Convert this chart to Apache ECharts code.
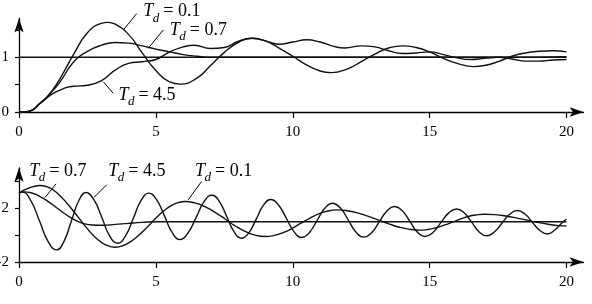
<!DOCTYPE html>
<html><head><meta charset="utf-8">
<style>html,body{margin:0;padding:0;background:#fff}#c{width:592px;height:304px}</style>
<script src="https://cdn.jsdelivr.net/npm/echarts@6/dist/echarts.min.js"></script>
</head><body><div id="c"></div>
<script>
// ---------- data ----------
const xTicks = [0, 5, 10, 15, 20];
const topYTicks = [0, 0.5, 1, 1.5];
const topYLabels = [0, 1];
const botYTicks = [-2, 0, 2, 4];
const botYLabels = [-2, 2];

const topRef = [[0, 1], [20, 1]];
const topTd01 = [[0,0],[0.25,0.005],[0.5,0.04],[0.75,0.15],[1.0,0.26],[1.25,0.42],[1.5,0.61],[2.0,1.06],[2.5,1.45],[3.0,1.62],[3.25,1.64],[3.5,1.61],[4.0,1.42],[4.5,1.08],[5.0,0.76],[5.5,0.55],[5.9,0.51],[6.5,0.62],[7.0,0.85],[7.5,1.09],[8.0,1.27],[8.5,1.35],[9.0,1.3],[9.5,1.17],[10.0,1.02],[10.5,0.86],[11.0,0.75],[11.4,0.72],[12.0,0.79],[12.5,0.92],[13.0,1.06],[13.5,1.17],[14.0,1.21],[14.5,1.18],[15.0,1.1],[15.5,0.98],[16.0,0.89],[16.6,0.83],[17.0,0.85],[17.5,0.92],[18.0,1.02],[18.5,1.08],[19.0,1.11],[19.5,1.12],[20.0,1.10]];
const topTd07 = [[0,0],[0.25,0.005],[0.5,0.04],[0.75,0.15],[1.0,0.26],[1.25,0.4],[1.5,0.55],[2.0,0.92],[2.5,1.11],[3.0,1.22],[3.5,1.27],[4.0,1.26],[4.5,1.21],[5.0,1.15],[5.5,1.1],[6.0,1.05],[6.5,1.02],[7.0,1.0],[8,1.0],[10,1.0],[12,1.0],[14,1.0],[16,1.0],[18,1.0],[20,1.01]];
const topTd45 = [[0,0],[0.25,0.005],[0.5,0.04],[0.75,0.15],[1.0,0.25],[1.25,0.34],[1.5,0.4],[1.75,0.45],[2.0,0.47],[2.5,0.49],[3.0,0.57],[3.5,0.76],[4.0,0.89],[4.5,0.92],[5.0,0.96],[5.5,1.1],[6.0,1.19],[6.4,1.22],[7.0,1.16],[7.5,1.18],[8.0,1.29],[8.5,1.35],[9.0,1.3],[9.5,1.24],[10.0,1.28],[10.5,1.32],[11.0,1.28],[11.5,1.2],[11.9,1.17],[12.5,1.21],[13.0,1.19],[13.5,1.12],[14.0,1.07],[14.5,1.08],[15.0,1.1],[15.5,1.05],[16.0,0.99],[16.5,0.96],[17.0,0.98],[17.5,1.0],[18.0,0.97],[18.5,0.93],[19.0,0.93],[19.5,0.95],[20.0,0.96]];

const botTd01 = [[0,3.13],[0.35,3.5],[0.77,3.7],[1.11,3.53],[1.45,3.03],[1.79,2.28],[2.14,1.4],[2.48,0.52],[2.82,-0.23],[3.16,-0.72],[3.5,-0.9],[3.82,-0.77],[4.14,-0.4],[4.46,0.15],[4.78,0.8],[5.09,1.45],[5.41,2.0],[5.73,2.37],[6.05,2.5],[6.42,2.4],[6.79,2.12],[7.16,1.7],[7.53,1.2],[7.89,0.7],[8.26,0.28],[8.63,0.0],[9.0,-0.1],[9.33,-0.02],[9.65,0.19],[9.98,0.51],[10.3,0.89],[10.63,1.27],[10.95,1.59],[11.28,1.8],[11.6,1.88],[11.98,1.82],[12.36,1.66],[12.74,1.41],[13.13,1.125],[13.51,0.84],[13.89,0.59],[14.27,0.43],[14.65,0.37],[14.94,0.42],[15.23,0.55],[15.53,0.74],[15.83,0.965],[16.12,1.19],[16.41,1.39],[16.71,1.51],[17.0,1.56],[17.39,1.53],[17.78,1.43],[18.16,1.29],[18.55,1.12],[18.94,0.95],[19.33,0.81],[19.71,0.71],[20.0,0.69]];
const botTd07 = [[0,3.13],[0.2,3.22],[0.4,3.18],[0.7,2.95],[1.07,2.5],[1.5,1.85],[1.92,1.26],[2.3,0.9],[2.66,0.76],[3.1,0.74],[3.5,0.8],[4.0,0.88],[4.5,0.95],[5.1,1.0],[6,1.0],[8,1.0],[10,1.0],[12,1.0],[14,1.0],[16,1.0],[18,1.0],[20,1.0]];
const botTd45 = [[0,3.13],[0.12,3.2],[0.43,2.57],[0.75,1.05],[1.06,-0.47],[1.37,-1.1],[1.64,-0.48],[1.91,1.03],[2.18,2.54],[2.45,3.17],[2.74,2.62],[3.03,1.3],[3.31,-0.06],[3.6,-0.6],[3.89,-0.05],[4.18,1.27],[4.46,2.59],[4.75,3.13],[5.03,2.62],[5.32,1.4],[5.6,0.18],[5.88,-0.33],[6.17,0.15],[6.47,1.32],[6.76,2.49],[7.05,2.97],[7.32,2.5],[7.59,1.37],[7.86,0.24],[8.13,-0.23],[8.4,0.19],[8.67,1.21],[8.93,2.23],[9.2,2.65],[9.48,2.24],[9.77,1.24],[10.05,0.24],[10.33,-0.17],[10.61,0.2],[10.89,1.1],[11.17,2.0],[11.45,2.38],[11.74,2.02],[12.03,1.12],[12.31,0.22],[12.6,-0.15],[12.88,0.18],[13.16,0.99],[13.44,1.8],[13.72,2.13],[14.0,1.81],[14.28,1.02],[14.55,0.23],[14.83,-0.1],[15.12,0.2],[15.41,0.93],[15.7,1.66],[15.99,1.95],[16.26,1.66],[16.54,0.95],[16.81,0.24],[17.08,-0.05],[17.36,0.23],[17.64,0.89],[17.92,1.55],[18.2,1.83],[18.48,1.57],[18.75,0.96],[19.03,0.35],[19.3,0.09],[19.58,0.4],[19.8,0.85],[20.0,1.2]];

// label annotations: [grid, text value, T-left t, T-baseline v, leader from (t,v), leader to (t,v)]
const labels = [
  [0, '0.1', 4.54, 1.742, [4.30, 1.80], [3.81, 1.50]],
  [0, '0.7', 5.51, 1.408, [5.27, 1.50], [4.72, 1.165]],
  [0, '4.5', 3.63, 0.219, [3.44, 0.342], [3.08, 0.554]],
  [1, '0.7', 0.376, 4.42, [1.35, 3.82], [0.95, 2.8]],
  [1, '4.5', 3.26, 4.42, [3.2, 3.75], [2.74, 2.81]],
  [1, '0.1', 6.43, 4.42, [6.67, 4.0], [6.18, 2.63]]
];

// ---------- chart ----------
const FONT = 'Liberation Serif';
const chart = echarts.init(document.getElementById('c'), null, {renderer: 'canvas'});

function xAxis(gi) {
  return {
    type: 'value', gridIndex: gi, min: 0, max: 20.62,
    axisLine: {onZero: false, lineStyle: {color: '#000', width: 1.3}, symbol: ['none', 'arrow'], symbolSize: [7, 14]},
    axisTick: {customValues: xTicks, length: 6, lineStyle: {color: '#000', width: 1.2}},
    axisLabel: {customValues: xTicks, color: '#000', fontFamily: FONT, fontSize: 15, margin: 13},
    splitLine: {show: false}
  };
}
function yAxis(gi, min, max, ticks, labs) {
  return {
    type: 'value', gridIndex: gi, min: min, max: max,
    axisLine: {show: true, onZero: false, lineStyle: {color: '#000', width: 1.3}, symbol: ['none', 'arrow'], symbolSize: [7, 14]},
    axisTick: {show: true, customValues: ticks, length: 4, lineStyle: {color: '#000', width: 1.2}},
    axisLabel: {customValues: labs, color: '#000', fontFamily: FONT, fontSize: 15, margin: 10},
    splitLine: {show: false}
  };
}
function line(gi, data) {
  return {
    type: 'line', xAxisIndex: gi, yAxisIndex: gi, data: data, smooth: true,
    showSymbol: false, silent: true, clip: false,
    lineStyle: {color: '#111', width: 1.4}
  };
}

chart.setOption({
  animation: false,
  backgroundColor: '#fff',
  grid: [
    {left: 19, right: 8.5, top: 18.5, height: 93.5, containLabel: false, outerBoundsMode: 'none'},
    {left: 19, right: 8.5, top: 168, height: 94, containLabel: false, outerBoundsMode: 'none'}
  ],
  xAxis: [xAxis(0), xAxis(1)],
  yAxis: [yAxis(0, 0, 1.71, topYTicks, topYLabels), yAxis(1, -2, 5.0, botYTicks, botYLabels)],
  series: [
    line(0, topRef), line(0, topTd01), line(0, topTd07), line(0, topTd45),
    line(1, botTd01), line(1, botTd07), line(1, botTd45)
  ]
});

const g = [];
labels.forEach(function (L) {
  const p = chart.convertToPixel({gridIndex: L[0]}, [L[2], L[3]]);
  const a = chart.convertToPixel({gridIndex: L[0]}, L[4]);
  const b = chart.convertToPixel({gridIndex: L[0]}, L[5]);
  const base = p[1] + 4;
  g.push({type: 'text', x: p[0], y: base, silent: true,
    style: {text: 'T', font: 'italic 18px "' + FONT + '"', fill: '#000', verticalAlign: 'bottom', align: 'left'}});
  g.push({type: 'text', x: p[0] + 9.5, y: base + 4, silent: true,
    style: {text: 'd', font: 'italic 13px "' + FONT + '"', fill: '#000', verticalAlign: 'bottom', align: 'left'}});
  g.push({type: 'text', x: p[0] + 20, y: base, silent: true,
    style: {text: '= ' + L[1], font: '18px "' + FONT + '"', fill: '#000', verticalAlign: 'bottom', align: 'left'}});
  g.push({type: 'line', silent: true, shape: {x1: a[0], y1: a[1], x2: b[0], y2: b[1]},
    style: {stroke: '#000', lineWidth: 1}});
});
chart.setOption({graphic: g});
</script></body></html>
